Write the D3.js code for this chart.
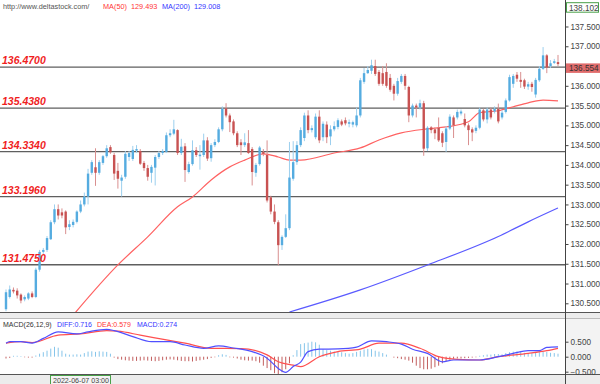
<!DOCTYPE html>
<html>
<head>
<meta charset="utf-8">
<script src="https://cdn.jsdelivr.net/npm/d3@7"></script>
<style>
body { margin: 0; background: #fff; }
svg { display: block; font-family: "Liberation Sans", Arial, sans-serif; }
</style>
</head>
<body>
<svg id="chart" width="600" height="384"></svg>
<script>
// candles (one per bar, left to right)
const opens = [130.35,130.66,130.84,130.82,130.72,130.60,130.62,130.75,130.66,131.35,131.80,131.85,132.12,132.55,132.88,132.80,132.82,132.43,132.48,132.56,
  132.82,133.00,133.20,133.80,133.94,133.80,134.05,134.22,134.45,134.25,133.85,133.60,133.70,134.20,134.15,134.36,134.35,134.05,133.92,133.80,
  133.93,134.20,134.30,134.33,134.75,134.79,134.88,134.30,134.47,133.82,134.02,134.37,134.22,134.25,134.62,134.17,134.50,134.58,134.90,135.43,
  135.25,135.10,134.80,134.57,134.50,134.55,134.40,133.80,134.02,134.33,134.25,133.18,132.82,132.55,131.97,132.18,132.40,133.65,134.07,134.50,
  134.68,135.25,134.88,134.70,135.22,134.70,135.02,134.72,134.90,134.96,135.10,135.13,135.04,135.02,135.00,135.25,136.10,136.32,136.38,136.50,
  136.35,136.32,136.35,136.20,136.00,135.80,136.10,136.25,135.97,135.25,135.50,135.45,135.56,134.42,134.95,134.90,134.94,134.80,134.58,134.92,
  135.20,135.20,135.30,135.16,135.00,134.90,134.86,134.94,135.38,135.15,135.40,135.35,135.42,135.20,135.34,135.63,136.05,136.28,136.15,136.14,
  135.98,136.05,135.78,136.14,136.43,136.77,136.50,136.58,136.60];
const highs = [130.85,130.95,130.90,130.88,130.75,130.70,130.78,130.80,131.40,131.85,131.90,132.20,132.60,133.00,133.00,132.90,132.85,132.60,132.62,132.85,
  133.10,133.30,133.90,134.12,134.42,134.12,134.25,134.50,134.50,134.30,134.05,133.75,134.35,134.35,134.48,134.50,134.40,134.10,134.00,134.00,
  134.25,134.35,134.40,134.82,134.90,135.14,134.90,134.66,134.55,134.08,134.62,134.45,134.50,134.79,134.70,134.55,134.65,134.95,135.48,135.56,
  135.30,135.15,134.85,134.65,134.80,134.88,134.45,134.05,134.48,134.40,134.62,133.22,133.00,132.60,132.22,132.75,134.58,134.60,134.60,134.95,
  135.32,135.38,135.00,135.30,135.38,135.10,135.10,135.00,135.10,135.18,135.15,135.20,135.15,135.12,135.45,136.20,136.45,136.50,136.66,136.66,
  136.40,136.50,136.57,136.30,136.05,136.20,136.30,136.30,136.00,135.55,135.55,135.65,135.62,134.98,134.98,134.95,135.20,134.85,134.98,135.28,
  135.25,135.40,135.40,135.30,135.05,134.95,135.00,135.45,135.42,135.45,135.45,135.48,135.55,135.38,135.68,136.28,136.30,136.35,136.35,136.18,
  136.10,136.10,136.20,136.50,136.98,136.80,136.65,136.68,136.78];
const lows = [130.30,130.62,130.75,130.62,130.50,130.55,130.58,130.63,130.63,131.30,131.75,131.80,132.10,132.50,132.62,132.65,132.25,132.35,132.42,132.52,
  132.78,132.95,133.00,133.75,133.47,133.75,134.00,134.18,134.28,133.62,133.40,133.20,133.65,134.10,134.10,134.30,134.00,133.85,133.60,133.55,
  133.48,134.15,134.25,134.30,134.70,134.75,134.25,134.25,133.57,133.78,133.98,134.20,133.88,134.20,134.10,134.08,134.45,134.55,134.85,135.20,
  134.83,134.75,134.45,134.25,134.45,134.28,133.48,133.70,133.98,134.22,133.05,132.75,132.50,131.46,131.85,132.15,132.35,133.60,134.00,134.45,
  134.60,134.80,134.82,134.65,134.55,134.60,134.55,134.50,134.85,134.90,134.98,135.00,134.95,134.95,134.95,135.20,136.05,136.30,136.30,136.25,
  136.00,136.00,135.95,135.85,135.63,135.75,136.05,135.90,135.08,135.20,135.20,135.40,134.23,134.35,134.80,134.65,134.58,134.45,134.33,134.88,
  134.68,135.15,135.25,134.95,134.50,134.60,134.80,134.90,135.10,135.05,135.15,135.30,135.05,135.15,135.30,135.60,135.95,136.10,135.95,135.92,
  135.90,135.85,135.70,136.10,136.40,136.32,136.45,136.55,136.50];
const closes = [130.78,130.85,130.80,130.70,130.57,130.66,130.75,130.66,131.35,131.80,131.85,132.15,132.55,132.88,132.72,132.72,132.42,132.50,132.56,132.82,
  133.00,133.20,133.78,134.07,133.80,134.07,134.22,134.42,134.32,133.78,133.65,133.68,134.28,134.30,134.38,134.40,134.03,133.92,133.70,133.95,
  134.20,134.30,134.35,134.75,134.80,134.90,134.30,134.46,133.87,134.02,134.37,134.25,134.26,134.62,134.16,134.50,134.58,134.90,135.42,135.25,
  135.08,134.80,134.50,134.50,134.57,134.30,133.82,134.00,134.44,134.28,133.10,132.82,132.56,131.97,132.18,132.40,133.68,134.07,134.50,134.88,
  135.25,134.88,134.93,135.22,134.62,135.04,134.70,134.90,134.98,135.13,135.02,135.05,135.08,135.08,135.25,136.14,136.32,136.40,136.52,136.30,
  136.05,136.05,136.00,135.90,135.80,136.12,136.25,136.00,135.25,135.50,135.45,135.56,134.41,134.94,134.88,134.80,134.62,134.56,134.92,135.22,
  135.00,135.34,135.35,135.00,134.88,134.82,134.94,135.40,135.15,135.40,135.20,135.42,135.10,135.32,135.63,136.22,136.25,136.18,136.10,135.98,
  136.04,135.97,136.15,136.43,136.77,136.46,136.57,136.62,136.55];

// moving averages, sampled at bar indexes
const ma50Idx = [18,30,38,46,50,55,60,64,69,73,76,79,88,95,100,106,113,118,124,127,132,136,140,144,148];
const ma50Val = [130.20,131.47,132.18,132.94,133.19,133.62,133.95,134.12,134.28,134.20,134.12,134.12,134.30,134.43,134.63,134.81,134.91,134.96,135.09,135.32,135.37,135.47,135.57,135.64,135.62];
const ma200Idx = [76,95,113,132,140,148];
const ma200Val = [130.28,130.84,131.47,132.19,132.56,132.91];

// MACD panel
const diffIdx = [0,1,4,7,10,14,19,22,27,29,34,39,44,48,53,57,61,66,70,73,75,77,79,81,84,89,94,98,102,106,109,113,117,120,127,132,136,140,143,145,148];
const diffVal = [0.45,0.50,0.50,0.45,0.61,0.83,0.76,0.83,0.91,0.87,0.67,0.50,0.50,0.39,0.28,0.36,0.29,0.17,-0.05,-0.39,-0.52,-0.33,-0.18,0.17,0.25,0.26,0.32,0.53,0.50,0.42,0.25,0.11,-0.17,-0.11,-0.11,0.00,0.11,0.20,0.20,0.31,0.33];
const deaIdx = [0,4,7,14,20,27,30,36,43,48,55,63,70,73,77,79,84,89,95,100,106,111,116,121,127,132,140,145,148];
const deaVal = [0.45,0.50,0.47,0.72,0.76,0.87,0.85,0.72,0.56,0.45,0.28,0.27,0.06,-0.17,-0.28,-0.33,0.00,0.17,0.25,0.45,0.45,0.28,0.00,-0.09,-0.11,0.00,0.11,0.20,0.28];
const histVal = [-0.06,-0.04,0.03,0.03,0.02,-0.02,-0.03,-0.03,0.04,
  0.10,0.15,0.20,0.27,0.33,0.30,0.20,0.10,0.07,0.07,0.08,
  0.07,0.12,0.17,0.18,0.16,0.18,0.17,0.16,0.10,-0.03,
  -0.08,-0.10,-0.12,-0.13,-0.14,-0.14,-0.13,-0.12,-0.13,-0.14,
  -0.15,-0.14,-0.12,-0.10,-0.09,-0.10,-0.12,-0.14,-0.15,-0.15,
  -0.16,-0.14,-0.12,-0.10,-0.08,-0.04,-0.02,0.05,0.08,0.06,
  -0.02,-0.03,-0.06,-0.10,-0.12,-0.13,-0.13,-0.15,-0.20,-0.30,
  -0.38,-0.45,-0.55,-0.60,-0.52,-0.42,-0.22,0.05,0.22,0.42,
  0.45,0.47,0.50,0.48,0.40,0.25,0.22,0.20,0.17,0.16,
  0.15,0.12,0.10,0.12,0.16,0.20,0.24,0.26,0.25,0.20,
  0.17,0.12,0.07,0.00,-0.03,-0.05,-0.08,-0.10,-0.13,-0.20,
  -0.30,-0.38,-0.42,-0.42,-0.40,-0.35,-0.30,-0.22,-0.15,-0.10,
  -0.07,-0.06,-0.06,-0.05,-0.04,-0.03,-0.02,0.03,0.05,0.07,
  0.07,0.09,0.09,0.08,0.12,0.15,0.17,0.18,0.16,0.13,
  0.12,0.12,0.13,0.15,0.17,0.16,0.13,0.12,0.10];

const levels = [136.47, 135.438, 134.334, 133.196, 131.475];
// 136.500 is hidden under the last-price box in the reference
const priceTicks = [137.5,137,136,135.5,135,134.5,134,133.5,133,132.5,132,131.5,131,130.5];
const macdTicks = [0.5, 0, -0.5];
const lastPrice = 136.554, maxPrice = 138.102;
const dateLabel = "2022-06-07 03:00";

const W = 600, H = 384, axisX = 565;
const svg = d3.select("#chart");

const x = d3.scaleLinear().domain([0, opens.length - 1]).range([6, 558]);
const y = d3.scaleLinear().domain([130.28, 138.17]).range([312, 0]);
const ym = d3.scaleLinear().domain([-0.577, 1.257]).range([374, 319]);

const defs = svg.append("defs");
defs.append("clipPath").attr("id","clipMain").append("rect").attr("x",0).attr("y",0).attr("width",axisX).attr("height",312);
defs.append("clipPath").attr("id","clipMacd").append("rect").attr("x",0).attr("y",319).attr("width",axisX).attr("height",55);

// panel backgrounds
svg.append("rect").attr("width",W).attr("height",H).attr("fill","#fff");
svg.append("rect").attr("x",0).attr("y",312).attr("width",W).attr("height",7).attr("fill","#ececec");
svg.append("rect").attr("x",axisX).attr("y",319).attr("width",W-axisX).attr("height",55).attr("fill","#f3f3f3");
svg.append("rect").attr("x",0).attr("y",374).attr("width",W).attr("height",10).attr("fill","#ececec");

const gMain = svg.append("g").attr("clip-path","url(#clipMain)");

// support / resistance levels
gMain.selectAll("line.level")
  .data(levels)
  .join("line")
  .attr("x1",0).attr("x2",axisX)
  .attr("y1",d => y(d)).attr("y2",d => y(d))
  .attr("stroke","#5f5f5f")
  .attr("stroke-width",1.3);

svg.selectAll("text.level")
  .data(levels)
  .join("text")
  .attr("x",2)
  .attr("y",d => y(d) - 3)
  .attr("fill","#f01e1e")
  .attr("font-size","10.5px")
  .attr("font-weight","bold")
  .attr("font-style","italic")
  .text(d => d.toFixed(4));

// moving averages
const line = d3.line().x(d => x(d[0])).y(d => y(d[1])).curve(d3.curveMonotoneX);
gMain.append("path")
  .datum(d3.zip(ma200Idx, ma200Val))
  .attr("fill","none").attr("stroke","#5a5aff").attr("stroke-width",1.2)
  .attr("d", line);
gMain.append("path")
  .datum(d3.zip(ma50Idx, ma50Val))
  .attr("fill","none").attr("stroke","#ff6262").attr("stroke-width",1.2)
  .attr("d", line);

// candles
const bars = d3.range(opens.length).map(i => ({i, o: opens[i], h: highs[i], l: lows[i], c: closes[i]}));
const up = d => d.c >= d.o;

gMain.selectAll("line.wick")
  .data(bars)
  .join("line")
  .attr("x1",d => x(d.i)).attr("x2",d => x(d.i))
  .attr("y1",d => y(d.h)).attr("y2",d => y(d.l))
  .attr("stroke",d => up(d) ? "#9ccfee" : "#d98f8f")
  .attr("stroke-width",1);

gMain.selectAll("rect.body")
  .data(bars)
  .join("rect")
  .attr("x",d => x(d.i) - 1.2)
  .attr("width",2.4)
  .attr("y",d => y(Math.max(d.o, d.c)))
  .attr("height",d => Math.max(1, Math.abs(y(d.o) - y(d.c))))
  .attr("fill",d => up(d) ? "#55ace0" : "#c85252");

// MACD panel
const gMacd = svg.append("g").attr("clip-path","url(#clipMacd)");
gMacd.selectAll("line.hist")
  .data(histVal)
  .join("line")
  .attr("x1",(d,i) => x(i)).attr("x2",(d,i) => x(i))
  .attr("y1",ym(0)).attr("y2",d => ym(d))
  .attr("stroke",d => d >= 0 ? "#86c5ea" : "#c25e5e")
  .attr("stroke-width",1);

const mline = d3.line().x(d => x(d[0])).y(d => ym(d[1])).curve(d3.curveMonotoneX);
gMacd.append("path")
  .datum(d3.zip(deaIdx, deaVal))
  .attr("fill","none").attr("stroke","#ff5050").attr("stroke-width",1.2)
  .attr("d", mline);
gMacd.append("path")
  .datum(d3.zip(diffIdx, diffVal))
  .attr("fill","none").attr("stroke","#5050ff").attr("stroke-width",1.2)
  .attr("d", mline);

// separators
svg.append("line").attr("x1",0).attr("x2",W).attr("y1",312.5).attr("y2",312.5).attr("stroke","#555");
svg.append("line").attr("x1",0).attr("x2",W).attr("y1",318.5).attr("y2",318.5).attr("stroke","#bbb");
svg.append("line").attr("x1",0).attr("x2",W).attr("y1",374.5).attr("y2",374.5).attr("stroke","#555");
svg.append("line").attr("x1",axisX+0.5).attr("x2",axisX+0.5).attr("y1",0).attr("y2",H).attr("stroke","#444");

// right axes
const axMain = svg.append("g")
  .attr("transform",`translate(${axisX+0.5},0)`)
  .call(d3.axisRight(y).tickValues(priceTicks).tickFormat(d3.format(".3f")).tickSize(3).tickPadding(2));
const axMacd = svg.append("g")
  .attr("transform",`translate(${axisX+0.5},0)`)
  .call(d3.axisRight(ym).tickValues(macdTicks).tickFormat(d3.format(".3f")).tickSize(3).tickPadding(2));
[axMain, axMacd].forEach(g => {
  g.select(".domain").remove();
  g.selectAll(".tick line").attr("stroke","#444");
  g.selectAll(".tick text").attr("fill","#444").attr("font-size","8.2px").attr("font-family","Liberation Sans, Arial, sans-serif");
});

// price boxes
svg.append("rect").attr("x",axisX+1).attr("y",y(lastPrice) - 0.5).attr("width",W-axisX-1).attr("height",9.5).attr("fill","#e06c6c");
svg.append("text").attr("x",569).attr("y",y(lastPrice) + 7.5).attr("fill","#333").attr("font-size","8.2px").text(lastPrice.toFixed(3));
svg.append("rect").attr("x",axisX+1.5).attr("y",y(maxPrice)).attr("width",W-axisX-3).attr("height",9.5)
  .attr("fill","#fff").attr("stroke","#49a049");
svg.append("text").attr("x",569).attr("y",y(maxPrice) + 8).attr("fill","#444").attr("font-size","8.2px").text(maxPrice.toFixed(3));

// header
const header = [
  {t:"http://www.deltastock.com/", x:3, c:"#555"},
  {t:"MA(50)", x:103, c:"#ff3535"},
  {t:"129.493", x:131, c:"#ff3535"},
  {t:"MA(200)", x:162, c:"#3535ff"},
  {t:"129.008", x:194, c:"#3535ff"}
];
svg.selectAll("text.header")
  .data(header)
  .join("text")
  .attr("x",d => d.x).attr("y",9)
  .attr("fill",d => d.c)
  .attr("font-size","7.3px")
  .text(d => d.t);

const macdHeader = [
  {t:"MACD(26,12,9)", x:3, c:"#333"},
  {t:"DIFF:0.716", x:57, c:"#3535ff"},
  {t:"DEA:0.579", x:97, c:"#ff3535"},
  {t:"MACD:0.274", x:137, c:"#3535ff"}
];
svg.selectAll("text.macdh")
  .data(macdHeader)
  .join("text")
  .attr("x",d => d.x).attr("y",327)
  .attr("fill",d => d.c)
  .attr("font-size","7px")
  .text(d => d.t);

// time label
svg.append("rect").attr("x",50.5).attr("y",375.5).attr("width",60).attr("height",9).attr("fill","#f4f4f4").attr("stroke","#49a049");
svg.append("text").attr("x",53).attr("y",383).attr("fill","#444").attr("font-size","7.1px").text(dateLabel);
</script>
</body>
</html>
